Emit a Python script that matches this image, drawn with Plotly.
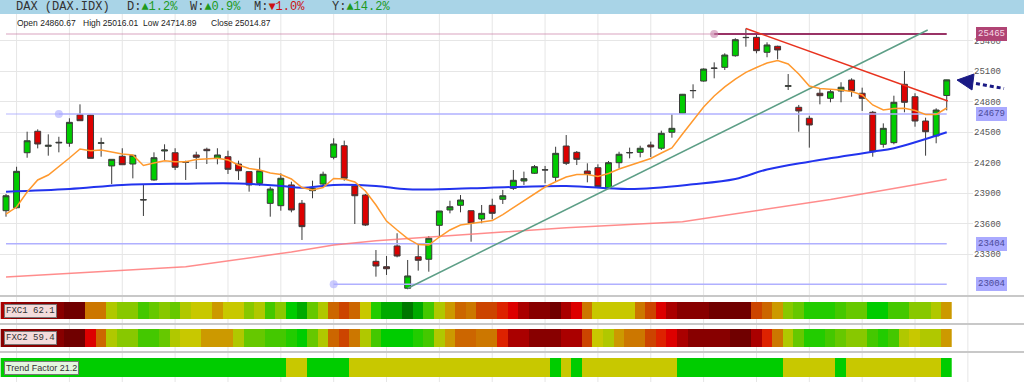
import plotly.graph_objects as go

# ---------------- data ----------------
idx = list(range(90))
opens = [23728, 23757, 24298, 24509, 24361, 24394, 24391, 24672, 24669, 24391,
         24168, 24263, 24187, 23833, 24030, 24315, 24298, 24207, 24276, 24332,
         24243, 24259, 24187, 24112, 23997, 23800, 23777, 23981, 23801, 23925,
         23990, 24253, 24367, 23971, 23882, 23230, 23177, 23381, 22965, 23275,
         23250, 23584, 23735, 23781, 23728, 23646, 23781, 23840, 23948, 24020,
         24096, 24128, 24056, 24364, 24302, 24118, 24151, 23948, 24200, 24296,
         24302, 24374, 24342, 24499, 24686, 24908, 25003, 25128, 25138, 25252,
         25430, 25433, 25286, 25345, 24951, 24745, 24637, 24883, 24833, 24905,
         25013, 24883, 24696, 24381, 24397, 24971, 24849, 24610, 24463, 24860.67]
highs = [23892, 24160, 24505, 24528, 24479, 24455, 24637, 24774, 24672, 24446,
         24233, 24342, 24276, 23981, 24302, 24381, 24342, 24220, 24308, 24348,
         24342, 24318, 24220, 24112, 24249, 23964, 24096, 24013, 23833, 24023,
         24112, 24440, 24417, 23976, 23892, 23341, 23282, 23506, 23243, 23390,
         23479, 23725, 23826, 23882, 23728, 23784, 23846, 23932, 24128, 24112,
         24177, 24168, 24357, 24472, 24315, 24194, 24184, 24217, 24308, 24348,
         24367, 24407, 24515, 24676, 24876, 24971, 25128, 25187, 25276, 25424,
         25520, 25456, 25384, 25351, 25072, 24768, 24662, 24932, 24922, 24991,
         25030, 24938, 24709, 24587, 24859, 25102, 24883, 24643, 24735, 25016.01]
lows = [23669, 23750, 24249, 24341, 24269, 24302, 24357, 24613, 24243, 24259,
        23990, 24180, 24046, 23676, 24023, 24220, 24128, 24030, 24138, 24187,
        24184, 24089, 24030, 23915, 23971, 23669, 23728, 23712, 23440, 23850,
        23958, 24233, 24023, 23597, 23577, 23079, 23096, 23269, 22955, 23138,
        23128, 23479, 23702, 23712, 23423, 23604, 23643, 23794, 23932, 23981,
        24089, 23997, 24013, 24177, 24177, 24007, 23954, 23941, 24145, 24243,
        24253, 24256, 24325, 24446, 24684, 24833, 24997, 25030, 25112, 25243,
        25341, 25276, 25237, 25217, 24915, 24505, 24348, 24774, 24794, 24794,
        24849, 24709, 24259, 24348, 24381, 24696, 24554, 24269, 24391, 24714.89]
closes = [23875, 24115, 24416, 24384, 24371, 24400, 24597, 24613, 24243, 24395,
          24233, 24180, 24273, 23836, 24249, 24325, 24155, 24205, 24253, 24318,
          24276, 24135, 24121, 23981, 24121, 23941, 24047, 23735, 23571, 23948,
          24086, 24384, 24047, 23875, 23587, 23184, 23157, 23282, 23086, 23240,
          23457, 23725, 23767, 23833, 23604, 23702, 23702, 23875, 24027, 24043,
          24161, 24130, 24292, 24194, 24233, 24086, 23964, 24200, 24283, 24300,
          24342, 24355, 24489, 24538, 24873, 24910, 25121, 25130, 25259, 25410,
          25432, 25302, 25358, 25309, 24957, 24709, 24571, 24859, 24898, 24942,
          24905, 24833, 24308, 24538, 24794, 24794, 24610, 24505, 24718, 25014.87]

# short moving average (orange), one value per candle
ma_fast = [23695, 23764, 23912, 24030, 24079, 24158, 24246, 24335, 24318, 24325,
           24305, 24286, 24276, 24172, 24197, 24220, 24210, 24210, 24231, 24238,
           24243, 24226, 24177, 24143, 24128, 24099, 24084, 24040, 23956, 23931,
           23956, 24045, 24040, 24010, 23922, 23784, 23626, 23538, 23454, 23395,
           23390, 23469, 23538, 23587, 23602, 23612, 23631, 23690, 23759, 23823,
           23892, 23961, 24013, 24059, 24084, 24084, 24064, 24094, 24138, 24172,
           24202, 24241, 24295, 24345, 24482, 24615, 24748, 24856, 24945, 25023,
           25089, 25136, 25181, 25205, 25171, 25072, 24954, 24930, 24925, 24915,
           24900, 24866, 24768, 24718, 24733, 24735, 24713, 24674, 24674, 24738]

# medium moving average (blue), read at selected candles
ma_mid_x = [0, 6, 11, 17, 22, 26, 28, 31, 35, 38, 44, 53, 59, 65, 69, 72, 76, 82, 84, 89]
ma_mid = [23915, 23941, 23981, 23993, 23995, 23971, 23954, 23981, 23971, 23938,
          23948, 23971, 23941, 23988, 24040, 24133, 24210, 24308, 24342, 24499]

# long moving average (pink), read at selected candles
ma_long_x = [0, 17, 27, 31, 35, 53, 64, 78, 89]
ma_long = [23076, 23177, 23322, 23391, 23433, 23561, 23620, 23838, 24037]

# trend lines (candle index, price)
up_trend_x = [38, 87.2]
up_trend_y = [22965, 25505]
down_trend_x = [70, 89.1]
down_trend_y = [25520, 24807]

# horizontal levels
level_vals = [25465, 24679, 23404, 23004]
level_start = [67, 5, 0, 31]
level_end = [89, 89, 89, 89]

# indicator strips (colour levels 0 = deep red ... 17 = deep green)
fxc1 = [2, 1, 1, 1, 1, 1, 0, 0, 7, 7,
        10, 11, 11, 13, 12, 11, 12, 10, 9, 9,
        8, 9, 9, 11, 10, 13, 11, 15, 16, 12,
        10, 6, 5, 6, 9, 14, 16, 16, 17, 16,
        13, 10, 8, 6, 7, 5, 5, 4, 3, 2,
        1, 1, 0, 2, 3, 7, 9, 9, 9, 9,
        7, 5, 3, 2, 1, 1, 1, 0, 0, 0,
        0, 5, 6, 8, 11, 12, 14, 14, 14, 13,
        12, 12, 15, 15, 13, 13, 11, 11, 10, 8]
fxc2 = [1, 1, 1, 1, 1, 1, 0, 0, 3, 6,
        10, 11, 11, 13, 13, 12, 10, 9, 9, 8,
        8, 8, 10, 12, 12, 13, 13, 14, 15, 12,
        10, 6, 5, 7, 10, 13, 15, 15, 15, 14,
        13, 10, 8, 6, 6, 7, 7, 4, 2, 2,
        1, 1, 1, 2, 2, 5, 9, 10, 8, 7,
        7, 5, 4, 3, 2, 1, 1, 1, 1, 0,
        0, 2, 4, 7, 10, 12, 14, 14, 13, 12,
        11, 11, 13, 14, 13, 10, 9, 10, 10, 8]
trend = [1] * 27 + [0, 0] + [1, 1, 1, 1] + [0] * 19 + [1, 0, 1] + [0] * 9 + [1] * 10 + [0] * 5 + [1] + [0] * 9 + [1]

y_ticks = [23300, 23600, 23900, 24200, 24500, 24800, 25100, 25400]
grid_x = list(range(1, 92, 5))

header_title = "DAX (DAX.IDX)"
header_changes = [("D:", "▲", "1.2%", "#1e9a1e"), ("W:", "▲", "0.9%", "#1e9a1e"),
                  ("M:", "▼", "1.0%", "#cc1111"), ("Y:", "▲", "14.2%", "#1e9a1e")]
ohlc_labels = ["Open 24860.67", "High 25016.01", "Low 24714.89", "Close 25014.87"]
strip_labels = ["FXC1 62.1", "FXC2 59.4", "Trend Factor 21.2"]

# ---------------- layout helpers ----------------
W, H = 1024, 382
R = 51
PW = W - R


def px(x):
    return x / PW


def py(y):
    return 1 - y / H


MONO = "Liberation Mono, Courier New, monospace"
SANS = "Liberation Sans, Arial, sans-serif"

palette = ["#700000", "#880000", "#aa0000", "#dd0000", "#dd2200", "#cc4400",
           "#cc6600", "#cc7700", "#cc9900", "#c8c800", "#b0c800", "#88c800",
           "#66c800", "#44c800", "#22cc00", "#00cc00", "#00aa00", "#007700"]
n = len(palette)
fxc_scale = []
for k, c in enumerate(palette):
    fxc_scale.append([k / n, c])
    fxc_scale.append([(k + 1) / n, c])
trend_scale = [[0, "#c8c800"], [0.5, "#c8c800"], [0.5, "#00cc00"], [1, "#00cc00"]]

fig = go.Figure()

# level lines
faint = {25465: "rgba(200,120,160,0.45)", 24679: "rgba(170,170,255,0.55)"}
for v, s, e in zip(level_vals, level_start, level_end):
    if v in faint and s > 0:
        fig.add_trace(go.Scatter(x=[0, s], y=[v, v], mode="lines",
                                 line=dict(color=faint[v], width=1.5),
                                 hoverinfo="skip", showlegend=False))
    col = "#993366" if v == 25465 else "#b0b0ff"
    wid = 2 if v == 25465 else 1.5
    fig.add_trace(go.Scatter(x=[s, e], y=[v, v], mode="lines",
                             line=dict(color=col, width=wid),
                             hoverinfo="skip", showlegend=False))
    if s > 0:
        mcol = "rgba(200,130,170,0.6)" if v == 25465 else "rgba(170,170,255,0.6)"
        fig.add_trace(go.Scatter(x=[s], y=[v], mode="markers",
                                 marker=dict(color=mcol, size=8),
                                 hoverinfo="skip", showlegend=False))

# moving averages
fig.add_trace(go.Scatter(x=ma_long_x, y=ma_long, mode="lines",
                         line=dict(color="rgba(255,120,120,0.85)", width=1.5),
                         showlegend=False))
fig.add_trace(go.Scatter(x=ma_mid_x, y=ma_mid, mode="lines", line_shape="spline",
                         line=dict(color="#2233ee", width=2), showlegend=False))

# trend lines
fig.add_trace(go.Scatter(x=up_trend_x, y=up_trend_y, mode="lines",
                         line=dict(color="#5c9e86", width=1.5), showlegend=False))
fig.add_trace(go.Scatter(x=down_trend_x, y=down_trend_y, mode="lines",
                         line=dict(color="#e8321e", width=1.5), showlegend=False))

fig.add_trace(go.Scatter(x=idx, y=ma_fast, mode="lines",
                         line=dict(color="#ff992e", width=1.5), showlegend=False))

# candles
fig.add_trace(go.Candlestick(
    x=idx, open=opens, high=highs, low=lows, close=closes,
    increasing=dict(fillcolor="#00cc00", line=dict(color="#3a3a3a", width=1)),
    decreasing=dict(fillcolor="#dd0000", line=dict(color="#3a3a3a", width=1)),
    whiskerwidth=0, showlegend=False))

# indicator strips
fig.add_trace(go.Heatmap(x=idx, y=[0], z=[fxc1], colorscale=fxc_scale, zmin=-0.5,
                         zmax=n - 0.5, showscale=False, xaxis="x", yaxis="y2"))
fig.add_trace(go.Heatmap(x=idx, y=[0], z=[fxc2], colorscale=fxc_scale, zmin=-0.5,
                         zmax=n - 0.5, showscale=False, xaxis="x", yaxis="y3"))
fig.add_trace(go.Heatmap(x=idx, y=[0], z=[trend], colorscale=trend_scale, zmin=-0.5,
                         zmax=1.5, showscale=False, xaxis="x", yaxis="y4"))

shapes = []
# header bar
shapes.append(dict(type="rect", xref="paper", yref="paper", x0=0, x1=px(W),
                   y0=py(14), y1=1, fillcolor="#a9d4e7", line=dict(width=0),
                   layer="below"))
# vertical grid
for g in grid_x:
    shapes.append(dict(type="line", xref="x", yref="paper", x0=g, x1=g,
                       y0=0, y1=py(14), line=dict(color="#e6e6e6", width=1),
                       layer="below"))
# separators
for yy in [296, 324, 352]:
    shapes.append(dict(type="line", xref="paper", yref="paper", x0=0, x1=px(W),
                       y0=py(yy), y1=py(yy), line=dict(color="#c8c8c8", width=2),
                       layer="below"))
# arrow at right
shapes.append(dict(type="path", xref="paper", yref="paper",
                   path=f"M {px(957)},{py(80)} L {px(974)},{py(74)} L {px(972)},{py(90)} Z",
                   fillcolor="#1a1a85", line=dict(color="#1a1a85", width=1)))
shapes.append(dict(type="line", xref="paper", yref="paper", x0=px(976), y0=py(83.5),
                   x1=px(1004), y1=py(88.5), line=dict(color="#1a1a85", width=3, dash="4px,3px")))

ann = []
ann.append(dict(text=header_title, x=px(14), y=py(6.5), xref="paper", yref="paper",
                xanchor="left", yanchor="middle", showarrow=False,
                font=dict(family=MONO, size=12, color="#333")))
hx = [125, 188, 252, 330]
for (lab, tri, val, col), x in zip(header_changes, hx):
    ann.append(dict(text=f"{lab}<span style='color:{col}'>{tri}{val}</span>",
                    x=px(x), y=py(6.5), xref="paper", yref="paper", xanchor="left",
                    yanchor="middle", showarrow=False,
                    font=dict(family=MONO, size=12, color="#333")))
for t, x in zip(ohlc_labels, [15, 81, 141, 209]):
    ann.append(dict(text=t, x=px(x), y=py(23.3), xref="paper", yref="paper",
                    xanchor="left", yanchor="middle", showarrow=False,
                    font=dict(family=SANS, size=8.5, color="#222")))
for v in level_vals:
    if v == 25465:
        bg, fc = "#b04474", "#f6dbe7"
    else:
        bg, fc = "#aaaaff", "#4a4a9a"
    ann.append(dict(text=str(v), x=1, y=v, xref="paper", yref="y", xanchor="left",
                    yanchor="middle", xshift=3, showarrow=False, bgcolor=bg,
                    bordercolor=bg, borderpad=1,
                    font=dict(family=MONO, size=9, color=fc)))
for t, yy, bg, fam in zip(strip_labels, [310.5, 338, 367.5],
                          ["#f4dcdc", "#f4dcdc", "#e4f6e0"], [MONO, MONO, SANS]):
    ann.append(dict(text=t, x=px(4), y=py(yy), xref="paper", yref="paper",
                    xanchor="left", yanchor="middle", showarrow=False, bgcolor=bg,
                    bordercolor="#777", borderwidth=1, borderpad=1,
                    font=dict(family=fam, size=9, color="#333")))

fig.update_layout(
    width=W, height=H, margin=dict(l=0, r=R, t=0, b=0),
    paper_bgcolor="white", plot_bgcolor="rgba(0,0,0,0)",
    showlegend=False, boxgap=0.2,
    xaxis=dict(range=[-6 / 10.57, (PW - 6) / 10.57], showgrid=False, zeroline=False,
               showticklabels=False, ticks="", rangeslider=dict(visible=False),
               fixedrange=True),
    yaxis=dict(domain=[py(296), py(14)], range=[25800.3 - 9.836 * 296, 25800.3 - 9.836 * 14],
               side="right", tickvals=y_ticks, tickformat="d", showgrid=True,
               gridcolor="#e6e6e6", zeroline=False, ticks="",
               tickfont=dict(family=MONO, size=9, color="#555"), fixedrange=True),
    yaxis2=dict(domain=[py(319), py(302)], range=[-0.5, 0.5], visible=False),
    yaxis3=dict(domain=[py(347), py(329)], range=[-0.5, 0.5], visible=False),
    yaxis4=dict(domain=[py(377), py(358)], range=[-0.5, 0.5], visible=False),
    shapes=shapes, annotations=ann,
)

fig.write_html("out.html", config={"displayModeBar": False},
               post_script="document.body.style.margin='0px';document.body.style.overflow='hidden';")
